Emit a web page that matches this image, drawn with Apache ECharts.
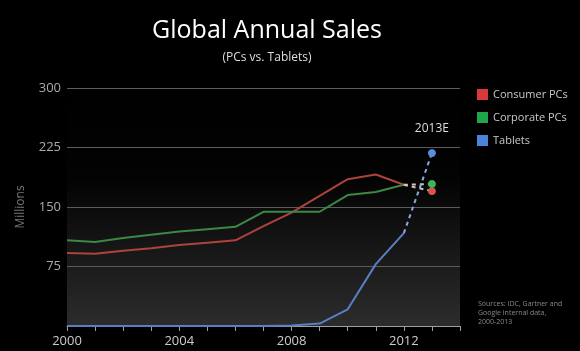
<!DOCTYPE html>
<html>
<head>
<meta charset="utf-8">
<script src="https://cdn.jsdelivr.net/npm/echarts@6/dist/echarts.min.js"></script>
<style>
  html, body { margin: 0; padding: 0; background: #000; }
  #chart { width: 580px; height: 351px; }
</style>
</head>
<body>
<div id="chart"></div>
<script>
// years on the x axis (2014 only closes the axis)
var years = ['2000', '2001', '2002', '2003', '2004', '2005', '2006', '2007',
             '2008', '2009', '2010', '2011', '2012', '2013', '2014'];
// actuals 2000-2012, millions of units
var consumerPCs = [92, 91, 95, 98, 102, 105, 108, 126, 143, 164, 185, 191, 178];
var corporatePCs = [108, 106, 111, 115, 119, 122, 125, 144, 144, 144, 165, 169, 178];
var tablets = [0, 0, 0, 0, 0, 0, 0, 0, 0.5, 3, 21, 78, 117];
// 2013 estimates
var consumerEst = 170;
var corporateEst = 179;
var tabletsEst = 218;
var yTicks = [0, 75, 150, 225, 300];

var names = ['Consumer PCs', 'Corporate PCs', 'Tablets'];
var lineColors = ['#ad433c', '#3c8845', '#5a7ec4'];
var legendColors = ['#d8393b', '#20a54a', '#4a83d9'];
var dotColors = ['#d9534f', '#3fb45a', '#5b8ce0'];

// dashed segment 2012 -> 2013E
function estimate(actual, est, withLabel) {
    var arr = [];
    for (var i = 0; i < actual.length - 1; i++) arr.push(null);
    arr.push({ value: actual[actual.length - 1], symbol: 'none' });
    var last = { value: est, symbol: 'circle', symbolSize: 7 };
    if (withLabel) {
        last.label = {
            show: true, position: 'top', distance: 14,
            formatter: '2013E', color: '#dddddd', fontSize: 12,
            fontFamily: 'Open Sans'
        };
    }
    arr.push(last);
    return arr;
}

var chart = echarts.init(document.getElementById('chart'));

var actuals = [consumerPCs, corporatePCs, tablets];
var ests = [consumerEst, corporateEst, tabletsEst];
var series = [];
for (var k = 0; k < 3; k++) {
    series.push({
        name: names[k],
        type: 'line',
        data: actuals[k],
        showSymbol: false,
        symbol: 'none',
        lineStyle: { width: 2, color: lineColors[k] },
        itemStyle: { color: legendColors[k] },
        z: 3
    });
}
for (var k = 0; k < 3; k++) {
    series.push({
        name: names[k],
        type: 'line',
        data: estimate(actuals[k], ests[k], k === 2),
        lineStyle: { width: 2, type: [4, 4], color: k === 2 ? '#8fa9e0' : '#cfc6b8' },
        itemStyle: { color: dotColors[k], borderColor: dotColors[k] },
        z: 4
    });
}

var option = {
    backgroundColor: '#000',
    animation: false,
    textStyle: { fontFamily: 'Open Sans' },
    title: {
        text: 'Global Annual Sales',
        subtext: '(PCs vs. Tablets)',
        left: 262,
        textAlign: 'center',
        top: 13,
        itemGap: 9,
        textStyle: { color: '#ffffff', fontSize: 25, fontWeight: 'normal', fontFamily: 'Open Sans' },
        subtextStyle: { color: '#dddddd', fontSize: 12, fontFamily: 'Open Sans' }
    },
    legend: {
        orient: 'vertical',
        left: 472,
        top: 84,
        itemWidth: 11,
        itemHeight: 11,
        itemGap: 12,
        icon: 'rect',
        textStyle: { color: '#c8c8c8', fontSize: 11, fontFamily: 'Open Sans' },
        data: names.map(function (n, i) {
            return { name: n, itemStyle: { color: legendColors[i] } };
        })
    },
    grid: {
        left: 67, right: 120, top: 88, bottom: 25,
        show: true,
        borderWidth: 0,
        backgroundColor: {
            type: 'linear', x: 0, y: 0, x2: 0, y2: 1,
            colorStops: [
                { offset: 0, color: '#000000' },
                { offset: 0.38, color: '#030303' },
                { offset: 1, color: '#2c2c2c' }
            ]
        }
    },
    xAxis: {
        type: 'category',
        data: years,
        boundaryGap: false,
        axisLine: { lineStyle: { color: '#9aa0ab', width: 1 } },
        axisTick: { show: true, interval: 0, length: 5, lineStyle: { color: '#9aa0ab' } },
        axisLabel: { interval: 3, color: '#cccccc', fontSize: 13, margin: 9 },
        splitLine: { show: false }
    },
    yAxis: {
        type: 'value',
        min: yTicks[0],
        max: yTicks[yTicks.length - 1],
        interval: 75,
        name: 'Millions',
        nameLocation: 'middle',
        nameGap: 40,
        nameTextStyle: { color: '#777777', fontSize: 12 },
        axisLine: { show: false },
        axisTick: { show: false },
        axisLabel: { color: '#aaaaaa', fontSize: 13, margin: 6,
            formatter: function (v) { return v === 0 ? '' : v; } },
        splitLine: { lineStyle: { color: '#5c5c5c', width: 1 } }
    },
    graphic: [{
        type: 'text',
        left: 478,
        top: 299,
        style: {
            text: 'Sources: IDC, Gartner and\nGoogle internal data,\n2000-2013',
            fill: '#888888',
            fontSize: 7,
            lineHeight: 9,
            fontFamily: 'Open Sans'
        }
    }],
    series: series
};
chart.setOption(option);
</script>
</body>
</html>
